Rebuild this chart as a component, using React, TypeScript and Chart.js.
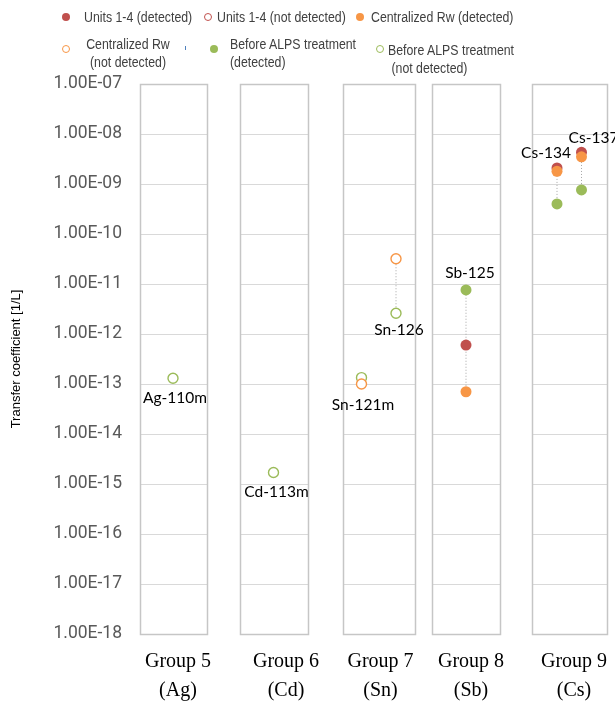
import React, { useEffect, useRef } from 'react';
import { Chart, registerables } from 'chart.js';

Chart.register(...registerables);

// ---------- data ----------
const groupNames = ['Group 5', 'Group 6', 'Group 7', 'Group 8', 'Group 9'];
const groupElements = ['(Ag)', '(Cd)', '(Sn)', '(Sb)', '(Cs)'];
const nuclides = ['Ag-110m', 'Cd-113m', 'Sn-121m', 'Sn-126', 'Sb-125', 'Cs-134', 'Cs-137'];
// position of each nuclide along the (group) axis
const nuclideX = [0.33, 1.335, 2.215, 2.56, 3.26, 4.17, 4.415];

const unitsDetected = [null, null, null, null, 6.0e-13, 2.1e-9, 4.3e-9];
const unitsNotDetected = [null, null, null, null, null, null, null];
const centralizedDetected = [null, null, null, null, 7.0e-14, 1.8e-9, 3.5e-9];
const centralizedNotDetected = [null, null, 1.0e-13, 3.2e-11, null, null, null];
const alpsDetected = [null, null, null, null, 7.6e-12, 4.0e-10, 7.6e-10];
const alpsNotDetected = [1.3e-13, 1.7e-15, 1.34e-13, 2.6e-12, null, null, null];

const yTickValues = [1e-18, 1e-17, 1e-16, 1e-15, 1e-14, 1e-13, 1e-12, 1e-11, 1e-10, 1e-9, 1e-8, 1e-7];

// ---------- layout / style ----------
const X_MIN = 0;
const X_MAX = 4.67;
const panelBounds = [
  [0, 0.67],
  [1.0, 1.68],
  [2.03, 2.75],
  [2.92, 3.6],
  [3.92, 4.67],
];
const groupLabelX = [0.38, 1.46, 2.405, 3.31, 4.34];
// label placement: anchor 'below' lowest point / 'above' highest point, plus pixel offsets
const labelPlacement: { anchor: 'above' | 'below'; dx: number; dy: number }[] = [
  { anchor: 'below', dx: 2, dy: 20 },
  { anchor: 'below', dx: 3, dy: 20 },
  { anchor: 'below', dx: 1.5, dy: 21 },
  { anchor: 'below', dx: 3, dy: 17 },
  { anchor: 'above', dx: 4, dy: -17 },
  { anchor: 'above', dx: -11, dy: -15 },
  { anchor: 'above', dx: 12, dy: -14 },
];

const RED = '#c0504d';
const ORANGE = '#f79646';
const GREEN = '#9bbb59';
const BLUE = '#4f81bd';
const LEGEND_FONT = '15.5px "Liberation Sans", Arial, sans-serif';

type SeriesDef = {
  label: string;
  values: (number | null)[];
  color: string;
  filled: boolean;
  order: number;
};

const series: SeriesDef[] = [
  { label: 'Units 1-4 (detected)', values: unitsDetected, color: RED, filled: true, order: 2 },
  { label: 'Units 1-4 (not detected)', values: unitsNotDetected, color: RED, filled: false, order: 2 },
  { label: 'Centralized Rw (detected)', values: centralizedDetected, color: ORANGE, filled: true, order: 1 },
  { label: 'Centralized Rw (not detected)', values: centralizedNotDetected, color: ORANGE, filled: false, order: 1 },
  { label: 'Before ALPS treatment (detected)', values: alpsDetected, color: GREEN, filled: true, order: 3 },
  { label: 'Before ALPS treatment (not detected)', values: alpsNotDetected, color: GREEN, filled: false, order: 3 },
];

const fmtSci = (v: number) => {
  const [m, e] = v.toExponential(2).split('e');
  const n = parseInt(e, 10);
  return `${m}E${n < 0 ? '-' : '+'}${String(Math.abs(n)).padStart(2, '0')}`;
};

const nuclideRange = (i: number) => {
  const vals = series.map((s) => s.values[i]).filter((v): v is number => v != null);
  return { min: Math.min(...vals), max: Math.max(...vals), count: vals.length };
};

const panelPlugin = {
  id: 'panels',
  beforeDatasetsDraw(chart: any) {
    const { ctx } = chart;
    const x = chart.scales.x;
    const y = chart.scales.y;
    const top = Math.round(y.getPixelForValue(yTickValues[yTickValues.length - 1])) + 0.5;
    const bottom = Math.round(y.getPixelForValue(yTickValues[0])) + 0.5;
    ctx.save();
    panelBounds.forEach(([a, b]) => {
      const l = Math.round(x.getPixelForValue(a)) + 0.5;
      const r = Math.round(x.getPixelForValue(b)) + 0.5;
      ctx.strokeStyle = '#d9d9d9';
      ctx.lineWidth = 1;
      yTickValues.forEach((v) => {
        const py = Math.round(y.getPixelForValue(v)) + 0.5;
        ctx.beginPath();
        ctx.moveTo(l, py);
        ctx.lineTo(r, py);
        ctx.stroke();
      });
      ctx.strokeStyle = '#c6c6c6';
      ctx.lineWidth = 1.5;
      ctx.strokeRect(l, top, r - l, bottom - top);
    });
    ctx.restore();
  },
};

const labelPlugin = {
  id: 'nuclideLabels',
  afterDatasetsDraw(chart: any) {
    const { ctx } = chart;
    const x = chart.scales.x;
    const y = chart.scales.y;
    ctx.save();
    ctx.font = '15.5px Lato, "Open Sans", sans-serif';
    ctx.fillStyle = '#000000';
    ctx.textAlign = 'center';
    ctx.textBaseline = 'middle';
    nuclides.forEach((name, i) => {
      const r = nuclideRange(i);
      const p = labelPlacement[i];
      const v = p.anchor === 'above' ? r.max : r.min;
      const px = x.getPixelForValue(nuclideX[i]) + p.dx;
      const py = y.getPixelForValue(v) + p.dy;
      ctx.fillText(name, px, py);
    });
    ctx.restore();
  },
};

export default function App() {
  const canvasRef = useRef<HTMLCanvasElement | null>(null);

  useEffect(() => {
    if (!canvasRef.current) return;

    const pointSets: any[] = series.map((s) => ({
      label: s.label,
      data: s.values
        .map((v, i) => (v == null ? null : { x: nuclideX[i], y: v }))
        .filter((p) => p != null),
      pointRadius: s.filled ? 5.5 : 5,
      pointHoverRadius: s.filled ? 5.5 : 5,
      pointBorderWidth: s.filled ? 0 : 1.4,
      pointBackgroundColor: s.filled ? s.color : '#ffffff',
      pointBorderColor: s.color,
      backgroundColor: s.color,
      borderColor: s.color,
      showLine: false,
      order: s.order,
    }));

    const connectorSets: any[] = nuclides
      .map((_, i) => ({ i, r: nuclideRange(i) }))
      .filter(({ r }) => r.count > 1)
      .map(({ i, r }) => ({
        label: 'connector ' + nuclides[i],
        data: [
          { x: nuclideX[i], y: r.min },
          { x: nuclideX[i], y: r.max },
        ],
        showLine: true,
        borderColor: '#a6a6a6',
        borderWidth: 1,
        borderDash: [1, 2],
        pointRadius: 0,
        order: 10,
      }));

    const chart = new Chart(canvasRef.current, {
      type: 'scatter',
      data: { datasets: [...pointSets, ...connectorSets] },
      plugins: [panelPlugin, labelPlugin],
      options: {
        animation: false,
        responsive: false,
        devicePixelRatio: 1,
        layout: { padding: { left: 0, top: 84, right: 8, bottom: 0 } },
        plugins: { legend: { display: false }, tooltip: { enabled: false } },
        scales: {
          x: {
            type: 'linear',
            min: X_MIN,
            max: X_MAX,
            grid: { display: false, drawTicks: false },
            border: { display: false },
            afterBuildTicks: (axis: any) => {
              axis.ticks = groupLabelX.map((v) => ({ value: v }));
            },
            afterFit: (axis: any) => {
              axis.height = 72;
              axis.paddingLeft = 0;
              axis.paddingRight = 0;
            },
            ticks: {
              autoSkip: false,
              maxRotation: 0,
              minRotation: 0,
              padding: 13,
              color: '#000000',
              font: { family: '"Liberation Serif", "Times New Roman", serif', size: 20, lineHeight: 1.45 },
              callback: (_v: any, idx: number) => [groupNames[idx], groupElements[idx]],
            },
          },
          y: {
            type: 'logarithmic',
            min: yTickValues[0],
            max: yTickValues[yTickValues.length - 1],
            grid: { display: false, drawTicks: false },
            border: { display: false },
            afterBuildTicks: (axis: any) => {
              axis.ticks = yTickValues.map((v) => ({ value: v, major: true }));
            },
            afterFit: (axis: any) => {
              axis.width = 140;
            },
            ticks: {
              autoSkip: false,
              padding: 18,
              color: '#595959',
              font: { family: 'Roboto, "Liberation Sans", sans-serif', size: 17.5 },
              callback: (v: any) => fmtSci(Number(v)),
            },
            title: {
              display: true,
              text: 'Transfer coefficient [1/L]',
              color: '#000000',
              padding: { top: 9, bottom: 0 },
              font: { family: '"Liberation Sans", Arial, sans-serif', size: 13 },
            },
          },
        },
      } as any,
    });

    return () => chart.destroy();
  }, []);

  const legendText = (left: number, top: number, origin = 'left center'): React.CSSProperties => ({
    position: 'absolute',
    left,
    top,
    font: LEGEND_FONT,
    color: '#404040',
    lineHeight: '17.5px',
    whiteSpace: 'nowrap',
    transform: 'scaleX(0.795)',
    transformOrigin: origin,
  });
  const marker = (cx: number, cy: number, color: string, filled: boolean) => (
    <div
      style={{
        position: 'absolute',
        left: cx - 4,
        top: cy - 4,
        width: 8,
        height: 8,
        boxSizing: 'border-box',
        borderRadius: '50%',
        background: filled ? color : '#ffffff',
        border: filled ? 'none' : `1.3px solid ${color}`,
      }}
    />
  );

  return (
    <div style={{ position: 'absolute', left: 0, top: 0, width: 615, height: 706, background: '#ffffff', overflow: 'hidden' }}>
      <canvas ref={canvasRef} width={615} height={706} style={{ position: 'absolute', left: 0, top: 0 }} />
      {/* legend row 1 */}
      {marker(66, 17, series[0].color, true)}
      <div style={legendText(84, 8)}>{series[0].label}</div>
      {marker(208, 17, series[1].color, false)}
      <div style={legendText(217, 8)}>{series[1].label}</div>
      {marker(360, 17, series[2].color, true)}
      <div style={legendText(371, 8)}>{series[2].label}</div>
      {/* legend row 2 */}
      {marker(66, 49, series[3].color, false)}
      <div style={{ ...legendText(68, 35, 'center center'), width: 120, textAlign: 'center' }}>
        Centralized Rw
        <br />
        (not detected)
      </div>
      <div style={{ position: 'absolute', left: 185, top: 46, width: 1, height: 4, background: BLUE }} />
      {marker(214, 49, series[4].color, true)}
      <div style={legendText(230, 35)}>
        Before ALPS treatment
        <br />
        (detected)
      </div>
      {marker(380, 49, series[5].color, false)}
      <div style={legendText(388, 41)}>
        Before ALPS treatment
        <br />
        &nbsp;(not detected)
      </div>
    </div>
  );
}
